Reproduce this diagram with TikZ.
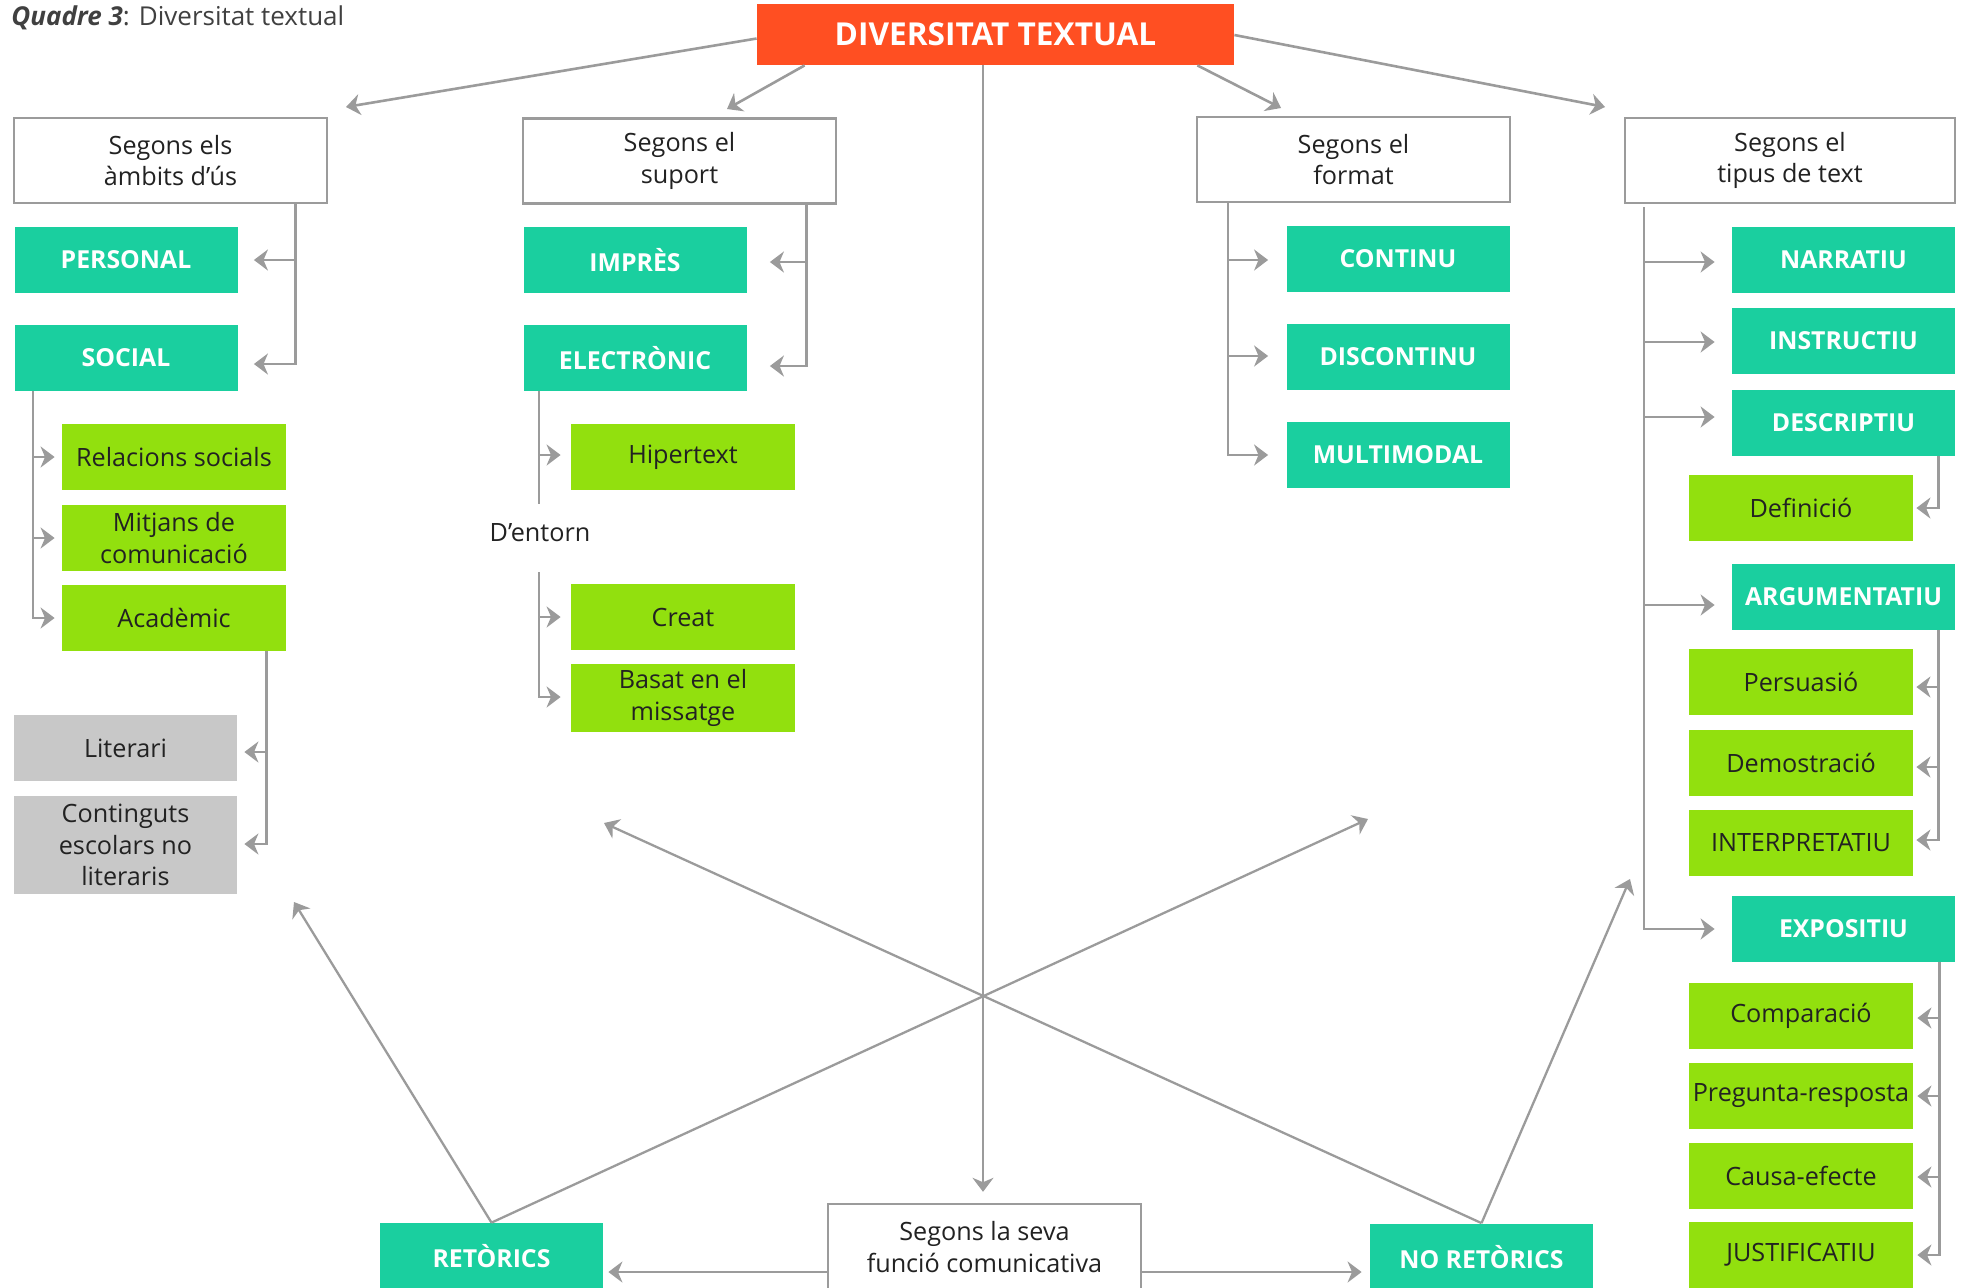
\documentclass[tikz,border=0pt]{standalone}
\usepackage{fontspec}
\setmainfont{Open Sans}
\usetikzlibrary{arrows.meta,calc}

\definecolor{cteal}{RGB}{26,207,159}
\definecolor{clime}{RGB}{146,224,14}
\definecolor{corange}{RGB}{255,79,34}
\definecolor{cgreybox}{RGB}{200,200,200}
\definecolor{cline}{RGB}{155,155,155}
\definecolor{ctext}{RGB}{34,34,34}
\definecolor{ctitle}{RGB}{64,64,64}

\tikzset{
  txt/.style={inner sep=0pt, align=center, text=ctext,
    font=\fontsize{12.6}{15.8}\selectfont},
  hdrbox/.style={txt, draw=cline, line width=1.2pt, fill=white,
    minimum width=156.5pt, minimum height=42.5pt},
  tealbox/.style={txt, fill=cteal, text=white,
    font=\fontsize{12.4}{15.8}\selectfont\bfseries,
    minimum width=111.5pt, minimum height=33pt},
  limebox/.style={txt, fill=clime, minimum width=112pt, minimum height=33pt},
  greybox/.style={txt, fill=cgreybox, minimum width=111.5pt, minimum height=33pt},
  wire/.style={draw=cline, line width=1.3pt},
  arrowline/.style={wire, -{Stealth[length=7pt,width=10.5pt,inset=2.2pt]}},
  diag/.style={arrowline, line width=1.15pt},
}

\begin{document}
\begin{tikzpicture}[x=0.5pt,y=-0.5pt]
\useasboundingbox (0,0) rectangle (1966,1287);

% caption
\node[anchor=base west, inner sep=0pt, text=ctitle,
      font=\fontsize{13}{15}\selectfont] (caption) at (11,25)
      {\textbf{\textit{Quadre 3}}: Diversitat textual};

% root
\node[inner sep=0pt, fill=corange, text=white,
      font=\fontsize{15.8}{18}\selectfont\bfseries,
      minimum width=238.5pt, minimum height=30.5pt] (div) at (995.5,34.5)
      {DIVERSITAT TEXTUAL};

% criteria
\node[hdrbox] (ambits) at (170.5,160.5) {Segons els\\àmbits d’ús};
\node[hdrbox] (suport) at (679.5,161) {Segons el\\suport};
\node[hdrbox] (format) at (1353.5,159.5) {Segons el\\format};
\node[hdrbox, minimum width=165pt] (tipus) at (1790,160.5) {Segons el\\tipus de text};
\node[hdrbox, minimum height=43pt] (funcio) at (984.5,1247) {Segons la seva\\funció comunicativa};

% àmbits d'ús
\node[tealbox] (personal) at (126,260) {PERSONAL};
\node[tealbox] (social) at (126,358) {SOCIAL};
\node[limebox] (relacions) at (174,457) {Relacions socials};
\node[limebox] (mitjans) at (174,538) {Mitjans de\\comunicació};
\node[limebox] (academic) at (174,618) {Acadèmic};
\node[greybox] (literari) at (125.5,748) {Literari};
\node[greybox, minimum height=49pt] (continguts) at (125.5,845) {Continguts\\escolars no\\literaris};

% suport
\node[tealbox] (impres) at (635,260) {IMPRÈS};
\node[tealbox] (electronic) at (635,358) {ELECTRÒNIC};
\node[limebox] (hipertext) at (683,457) {Hipertext};
\node[txt] (dentorn) at (540,533) {D’entorn};
\node[limebox] (creat) at (683,617) {Creat};
\node[limebox, minimum height=34pt] (basat) at (683,698) {Basat en el\\missatge};

% format
\node[tealbox] (continu) at (1398,259) {CONTINU};
\node[tealbox] (discontinu) at (1398,357) {DISCONTINU};
\node[tealbox] (multimodal) at (1398,455) {MULTIMODAL};

% tipus de text
\node[tealbox] (narratiu) at (1843.5,260) {NARRATIU};
\node[tealbox] (instructiu) at (1843.5,341) {INSTRUCTIU};
\node[tealbox] (descriptiu) at (1843.5,423) {DESCRIPTIU};
\node[limebox] (definicio) at (1801,508) {Definició};
\node[tealbox] (argumentatiu) at (1843.5,597) {ARGUMENTATIU};
\node[limebox] (persuasio) at (1801,682) {Persuasió};
\node[limebox] (demostracio) at (1801,763) {Demostració};
\node[limebox] (interpretatiu) at (1801,843) {INTERPRETATIU};
\node[tealbox] (expositiu) at (1843.5,929) {EXPOSITIU};
\node[limebox] (comparacio) at (1801,1016) {Comparació};
\node[limebox] (pregunta) at (1801,1096) {Pregunta-resposta};
\node[limebox] (causa) at (1801,1176) {Causa-efecte};
\node[limebox] (justificatiu) at (1801,1255) {JUSTIFICATIU};

% funció comunicativa
\node[tealbox, minimum height=33.5pt] (retorics) at (491.5,1256.5) {RETÒRICS};
\node[tealbox, minimum height=33.5pt] (noretorics) at (1481.5,1257) {NO RETÒRICS};

% ---- connectors from the root
\coordinate (tipAmbits) at (346,107);
\coordinate (tipSuport) at (727,109);
\coordinate (tipFormat) at (1281,108);
\coordinate (tipTipus) at (1605,107);
\draw[arrowline] ($(div.west)+(0,4)$) -- (tipAmbits);
\draw[arrowline] ($(div.south west)+(48,0)$) -- (tipSuport);
\draw[arrowline] ($(div.south east)+(-37,0)$) -- (tipFormat);
\draw[arrowline] ($(div.east)+(0,0.5)$) -- (tipTipus);
\draw[arrowline, line width=1pt] ($(div.south)+(-12.5,0)$) -- ($(funcio.north)+(-1.5,-11)$);

% ---- àmbits d'ús tree
\coordinate (ambTrunk) at ($(ambits.south east)+(-33,0)$);
\draw[arrowline] (ambTrunk) |- ($(social.east)+(16,6)$);
\draw[arrowline] (ambTrunk |- personal.east) -- ($(personal.east)+(16,0)$);

\coordinate (socTrunk) at ($(social.south west)+(19,0)$);
\draw[arrowline] (socTrunk) |- ($(academic.west)+(-7,0)$);
\draw[arrowline] (socTrunk |- relacions.west) -- ($(relacions.west)+(-7,0)$);
\draw[arrowline] (socTrunk |- mitjans.west) -- ($(mitjans.west)+(-7,0)$);

\coordinate (acTrunk) at ($(academic.south east)+(-20,0)$);
\draw[arrowline] (acTrunk) |- ($(continguts.east)+(7,-1)$);
\draw[arrowline] ($(acTrunk |- literari.east)+(0,4)$) -- ($(literari.east)+(7,4)$);

% ---- suport tree
\coordinate (supTrunk) at ($(suport.south east)+(-31,0)$);
\draw[arrowline] (supTrunk) |- ($(electronic.east)+(23,8)$);
\draw[arrowline] ($(supTrunk |- impres.east)+(0,2)$) -- ($(impres.east)+(23,2)$);

\coordinate (elTrunk) at ($(electronic.south west)+(16,0)$);
\coordinate (elTrunkB) at (539,572);
\draw[wire] (elTrunk) -- ++(0,113);
\draw[arrowline] ($(elTrunk |- hipertext.west)+(0,-2)$) -- ($(hipertext.west)+(-10,-2)$);
\draw[arrowline] (elTrunkB) |- ($(basat.west)+(-10,-1)$);
\draw[arrowline] (elTrunkB |- creat.west) -- ($(creat.west)+(-10,0)$);

% ---- format tree
\coordinate (fmtTrunk) at ($(format.south west)+(32,0)$);
\draw[arrowline] (fmtTrunk) |- ($(multimodal.west)+(-18,0)$);
\draw[arrowline] ($(fmtTrunk |- continu.west)+(0,1)$) -- ($(continu.west)+(-18,1)$);
\draw[arrowline] ($(fmtTrunk |- discontinu.west)+(0,-1)$) -- ($(discontinu.west)+(-18,-1)$);

% ---- tipus de text tree
\coordinate (tipTrunk) at ($(tipus.south west)+(20,3)$);
\draw[arrowline] (tipTrunk) |- ($(expositiu.west)+(-17,0)$);
\draw[arrowline] ($(tipTrunk |- narratiu.west)+(0,2)$) -- ($(narratiu.west)+(-17,2)$);
\draw[arrowline] ($(tipTrunk |- instructiu.west)+(0,1)$) -- ($(instructiu.west)+(-17,1)$);
\draw[arrowline] ($(tipTrunk |- descriptiu.west)+(0,-6)$) -- ($(descriptiu.west)+(-17,-6)$);
\draw[arrowline] ($(tipTrunk |- argumentatiu.west)+(0,8)$) -- ($(argumentatiu.west)+(-17,8)$);

\coordinate (descTrunk) at ($(descriptiu.south east)+(-17,0)$);
\draw[arrowline] (descTrunk) |- ($(definicio.east)+(3,0)$);

\coordinate (argTrunk) at ($(argumentatiu.south east)+(-17,0)$);
\draw[arrowline] (argTrunk) |- ($(interpretatiu.east)+(3,-3)$);
\draw[arrowline] ($(argTrunk |- persuasio.east)+(0,5)$) -- ($(persuasio.east)+(3,5)$);
\draw[arrowline] ($(argTrunk |- demostracio.east)+(0,4)$) -- ($(demostracio.east)+(3,4)$);

\coordinate (expTrunk) at ($(expositiu.south east)+(-16,0)$);
\draw[arrowline] (expTrunk) |- ($(justificatiu.east)+(4,0)$);
\draw[arrowline] ($(expTrunk |- comparacio.east)+(0,2)$) -- ($(comparacio.east)+(4,2)$);
\draw[arrowline] (expTrunk |- pregunta.east) -- ($(pregunta.east)+(4,0)$);
\draw[arrowline] ($(expTrunk |- causa.east)+(0,1)$) -- ($(causa.east)+(4,1)$);

% ---- funció comunicativa
\draw[arrowline] ($(funcio.west)+(0,25)$) -- ($(retorics.east)+(5,15.5)$);
\draw[arrowline] ($(funcio.east)+(0,25)$) -- ($(noretorics.west)+(-8,15)$);

\coordinate (retUp) at (294,902);
\coordinate (retCross) at (1368,819);
\coordinate (noretCross) at (604,823);
\coordinate (noretUp) at (1630,879);
\draw[diag] (retorics.north) -- (retUp);
\draw[diag] (retorics.north) -- (retCross);
\draw[diag] (noretorics.north) -- (noretCross);
\draw[diag] (noretorics.north) -- (noretUp);
\end{tikzpicture}
\end{document}
